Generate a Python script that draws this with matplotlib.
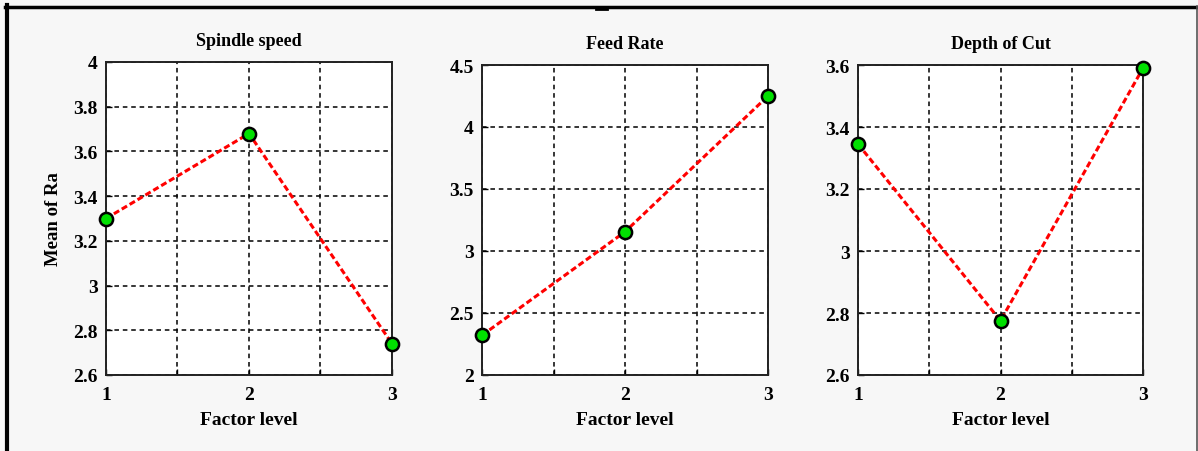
import matplotlib
matplotlib.use("Agg")
import matplotlib.pyplot as plt
from matplotlib.lines import Line2D

# factor levels and mean Ra for each process parameter
levels = [1, 2, 3]
spindle_speed = [3.30, 3.68, 2.74]
feed_rate = [2.32, 3.155, 4.25]
depth_of_cut = [3.345, 2.775, 3.59]

titles = ["Spindle speed", "Feed Rate", "Depth of Cut"]
ylims = [(2.6, 4.0), (2.0, 4.5), (2.6, 3.6)]
yticks = [[2.6, 2.8, 3.0, 3.2, 3.4, 3.6, 3.8, 4.0],
          [2.0, 2.5, 3.0, 3.5, 4.0, 4.5],
          [2.6, 2.8, 3.0, 3.2, 3.4, 3.6]]
yticklabels = [["2.6", "2.8", "3", "3.2", "3.4", "3.6", "3.8", "4"],
               ["2", "2.5", "3", "3.5", "4", "4.5"],
               ["2.6", "2.8", "3", "3.2", "3.4", "3.6"]]
series = [spindle_speed, feed_rate, depth_of_cut]

W, H = 1198, 452
plt.rcParams['font.family'] = ['Liberation Serif', 'DejaVu Serif']
plt.rcParams['font.weight'] = 'bold'

fig = plt.figure(figsize=(W / 100, H / 100), dpi=100, facecolor='#f7f7f7')

# axes boxes in pixels: left, right, top, bottom
boxes = [(106, 392, 63, 376), (482, 768, 66, 376), (858, 1143, 66, 376)]

for i, (l, r, t, b) in enumerate(boxes):
    ax = fig.add_axes([l / W, (H - b) / H, (r - l) / W, (b - t) / H])
    ax.set_facecolor('white')
    ax.plot(levels, series[i], color='red', lw=2.2, linestyle=(0, (2, 1)),
            marker='o', markersize=9.5, markerfacecolor='#00e000',
            markeredgecolor='black', markeredgewidth=1.8, clip_on=False, zorder=5)
    ax.set_xlim(1, 3)
    ax.set_ylim(*ylims[i])
    ax.set_xticks([1, 1.5, 2, 2.5, 3])
    ax.set_xticklabels(["1", "", "2", "", "3"])
    ax.set_yticks(yticks[i])
    ax.set_yticklabels(yticklabels[i])
    ax.tick_params(direction='in', length=4, width=1, labelsize=14)
    ax.tick_params(axis='x', pad=8)
    ax.tick_params(axis='y', pad=6)
    ax.grid(True, color='black', linestyle=(0, (3, 2.5)), lw=1.1)
    for s in ax.spines.values():
        s.set_linewidth(1.4)
        s.set_color('#222222')
    ax.set_title(titles[i], fontsize=13, fontweight='bold', pad=12)
    ax.set_xlabel("Factor level", fontsize=14, fontweight='bold', labelpad=6)
    if i == 0:
        ax.set_ylabel("Mean of Ra", fontsize=13.5, fontweight='bold', labelpad=8)

# frame around the figure
px = lambda x: x / W
py = lambda y: (H - y) / H
fig.add_artist(Line2D([px(5), px(1198)], [py(7.5), py(7.5)], color='black', lw=2.5))
fig.add_artist(Line2D([px(7), px(7)], [py(6), py(452)], color='black', lw=3))
fig.add_artist(Line2D([px(1197), px(1197)], [py(7), py(452)], color='#555555', lw=1.2))
fig.add_artist(Line2D([px(596), px(607)], [py(10), py(10)], color='black', lw=2))

fig.savefig("out.png", dpi=100, facecolor=fig.get_facecolor())
